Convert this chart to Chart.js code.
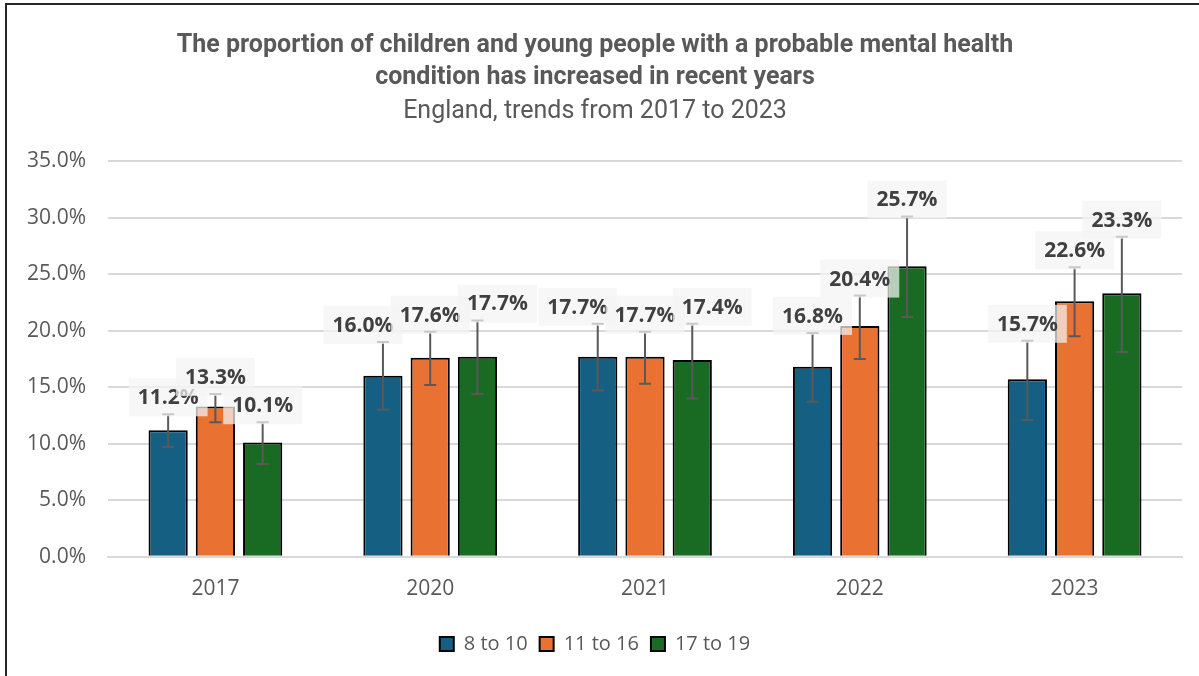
<!DOCTYPE html>
<html>
<head>
<meta charset="utf-8">
<script src="https://cdn.jsdelivr.net/npm/chart.js@4/dist/chart.umd.min.js"></script>
<style>
  body { margin: 0; background: #fff; }
  #wrap { position: relative; width: 1199px; height: 676px; overflow: hidden; }
  #frame { position: absolute; left: 5px; top: 3px; width: 1300px; height: 800px;
           border-left: 2px solid #262626; border-top: 2px solid #262626; pointer-events: none; }
</style>
</head>
<body>
<div id="wrap">
  <canvas id="chart" width="1199" height="676"></canvas>
  <div id="frame"></div>
</div>
<script>
// data (percent)
const years = ['2017', '2020', '2021', '2022', '2023'];
const groupNames = ['8 to 10', '11 to 16', '17 to 19'];
const age8to10 = [11.2, 16.0, 17.7, 16.8, 15.7];
const age11to16 = [13.3, 17.6, 17.7, 20.4, 22.6];
const age17to19 = [10.1, 17.7, 17.4, 25.7, 23.3];
// confidence interval ends (estimated from the error bars)
const low8to10 = [9.7, 13.0, 14.7, 13.7, 12.1];
const high8to10 = [12.6, 19.0, 20.6, 19.8, 19.1];
const low11to16 = [11.9, 15.2, 15.3, 17.5, 19.5];
const high11to16 = [14.4, 19.9, 19.9, 23.1, 25.6];
const low17to19 = [8.2, 14.4, 14.0, 21.2, 18.1];
const high17to19 = [11.9, 20.9, 20.6, 30.1, 28.3];
const yTicks = [0, 5, 10, 15, 20, 25, 30, 35];

const colors = ['#156082', '#E97132', '#196B24'];
const series = [age8to10, age11to16, age17to19];
const lows = [low8to10, low11to16, low17to19];
const highs = [high8to10, high11to16, high17to19];

const FONT = "'Open Sans', 'Noto Sans', sans-serif";
const TITLE_FONT = "'Roboto', sans-serif";

// draws the error bars and the boxed value labels
const errorBars = {
  id: 'errorBars',
  afterDatasetsDraw(chart) {
    const ctx = chart.ctx;
    const y = chart.scales.y;
    ctx.save();
    ctx.strokeStyle = '#595959';
    ctx.lineWidth = 2;
    chart.data.datasets.forEach((ds, d) => {
      const meta = chart.getDatasetMeta(d);
      meta.data.forEach((bar, i) => {
        const top = y.getPixelForValue(highs[d][i]);
        const bot = y.getPixelForValue(lows[d][i]);
        ctx.beginPath();
        ctx.moveTo(bar.x, top); ctx.lineTo(bar.x, bot);
        ctx.moveTo(bar.x - 6, top); ctx.lineTo(bar.x + 6, top);
        ctx.moveTo(bar.x - 6, bot); ctx.lineTo(bar.x + 6, bot);
        ctx.stroke();
      });
    });

    // labels
    ctx.font = 'bold 21px ' + FONT;
    ctx.textAlign = 'center';
    ctx.textBaseline = 'middle';
    years.forEach((yr, i) => {
      const pos = [0, 1, 2].map(d => {
        const bar = chart.getDatasetMeta(d).data[i];
        return { x: bar.x, y: y.getPixelForValue(highs[d][i]) - 17 };
      });
      // nudge neighbours apart when they sit at about the same height
      if (Math.abs(pos[0].y - pos[1].y) < 12) pos[0].x -= 20;
      if (Math.abs(pos[2].y - pos[1].y) < 12) pos[2].x += 20;
      [0, 1, 2].forEach(d => {
        const txt = series[d][i].toFixed(1) + '%';
        const w = ctx.measureText(txt).width + 18;
        const h = 38;
        ctx.fillStyle = 'rgba(244,244,244,0.72)';
        ctx.fillRect(pos[d].x - w / 2, pos[d].y - h / 2, w, h);
        ctx.fillStyle = '#404040';
        ctx.fillText(txt, pos[d].x, pos[d].y + 1);
      });
    });
    ctx.restore();
  }
};

new Chart(document.getElementById('chart'), {
  type: 'bar',
  data: {
    labels: years,
    datasets: groupNames.map((name, d) => ({
      label: name,
      data: series[d],
      backgroundColor: colors[d],
      borderColor: '#000',
      borderWidth: 2,
      categoryPercentage: 0.66,
      barPercentage: 0.83
    }))
  },
  options: {
    responsive: false,
    animation: false,
    layout: { padding: { left: 8, right: 17, top: 30, bottom: 12 } },
    plugins: {
      title: {
        display: true,
        text: ['The proportion of children and young people with a probable mental health',
               'condition has increased in recent years'],
        color: '#595959',
        font: { family: TITLE_FONT, size: 25, weight: 'bold', lineHeight: 1.28 },
        padding: { top: 0, bottom: 3 }
      },
      subtitle: {
        display: true,
        text: 'England, trends from 2017 to 2023',
        color: '#595959',
        font: { family: TITLE_FONT, size: 25, weight: 'normal' },
        padding: { top: 0, bottom: 34 }
      },
      legend: {
        position: 'bottom',
        labels: {
          color: '#595959',
          font: { family: FONT, size: 20 },
          boxWidth: 14,
          boxHeight: 14,
          padding: 12
        }
      },
      tooltip: { enabled: false }
    },
    scales: {
      x: {
        grid: { display: false, drawTicks: false },
        border: { color: '#d9d9d9', width: 2 },
        ticks: { color: '#595959', font: { family: FONT, size: 21 }, padding: 20 }
      },
      y: {
        min: 0,
        max: 35,
        afterBuildTicks: s => { s.ticks = yTicks.map(v => ({ value: v })); },
        afterFit: s => { s.width = 100; },
        grid: { color: '#d9d9d9', lineWidth: 2, drawTicks: false },
        border: { display: false },
        ticks: {
          color: '#595959',
          font: { family: FONT, size: 21 },
          padding: 22,
          callback: v => v.toFixed(1) + '%'
        }
      }
    }
  },
  plugins: [errorBars]
});
</script>
</body>
</html>
